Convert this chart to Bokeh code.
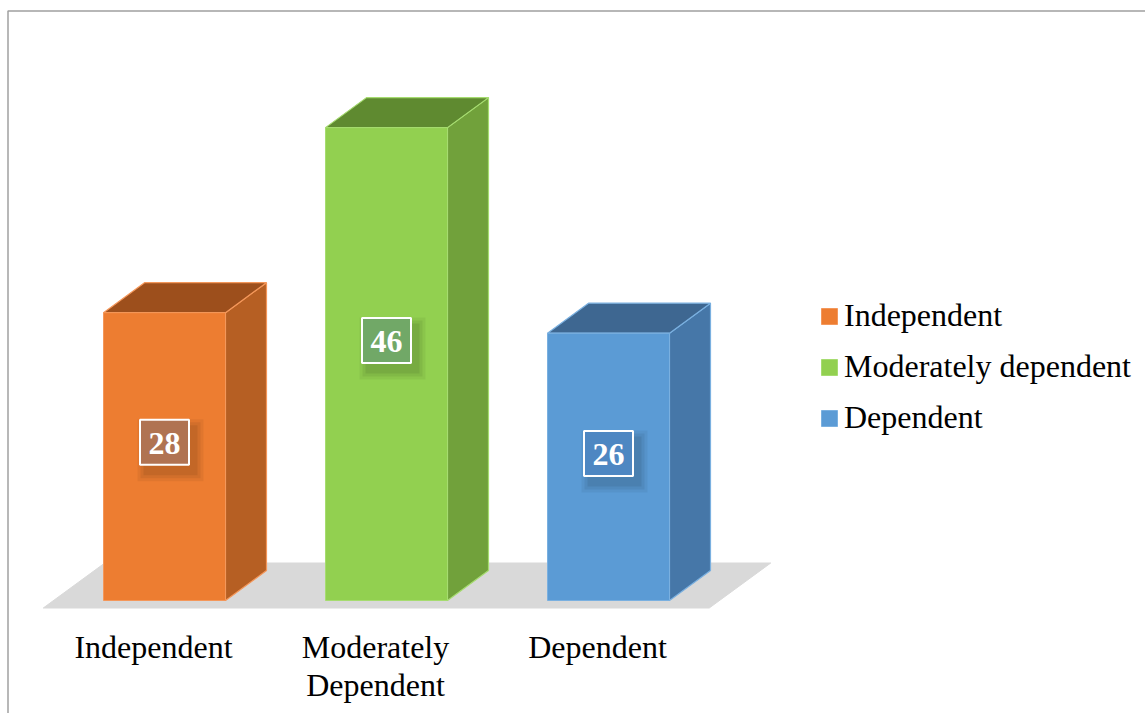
from bokeh.plotting import figure
from bokeh.models import Range1d, Legend, LegendItem, ColumnDataSource
from bokeh.core.properties import value
from bokeh.embed import file_html
from bokeh.resources import INLINE

# ---- data -------------------------------------------------------------
categories = ["Independent", "Moderately dependent", "Dependent"]
axis_labels = ["Independent", "Moderately\nDependent", "Dependent"]
percent = [28, 46, 26]

# ---- colours ----------------------------------------------------------
front_colors = ["#ED7D31", "#92D050", "#5B9BD5"]
side_colors = ["#B65F23", "#71A13B", "#4677A8"]
top_colors = ["#9D4F1C", "#5F8A30", "#3E6791"]
edge_colors = ["#F4975A", "#A6DC70", "#7AB0E0"]
label_fills = ["#B07352", "#71A867", "#4E87C2"]

FONT = "Liberation Serif"

# ---- canvas and scale -------------------------------------------------
W, H = 1145, 713
CAT_PX = 222.0      # pixels between neighbouring categories
VAL_PX = 10.28      # pixels per percentage point
X0_PX, Y0_PX = 164.0, 600.0   # screen position of category 0 at value 0

x_start, x_end = -X0_PX / CAT_PX, (W - X0_PX) / CAT_PX
y_start, y_end = -(H - Y0_PX) / VAL_PX, Y0_PX / VAL_PX

half_w = 61 / CAT_PX        # half the width of a bar's front face
dx = 41 / CAT_PX            # oblique depth, horizontal part
dy = 30 / VAL_PX            # oblique depth, vertical part

p = figure(width=W, height=H, output_backend="svg", toolbar_location=None,
           x_range=Range1d(x_start, x_end), y_range=Range1d(y_start, y_end),
           x_axis_location=None, y_axis_location=None, min_border=0)
p.grid.grid_line_color = None
p.outline_line_color = None
p.background_fill_color = "white"
p.border_fill_color = "white"

n = len(categories)
idx = list(range(n))

# chart border (top and left edges)
bx = x_start + 7.5 / CAT_PX
by = y_end - 10.5 / VAL_PX
p.line([bx, bx, x_end + 1], [y_start - 1, by, by], line_color="#A0A0A0", line_width=1.5)

# floor under the bars
f0, f1 = -0.25, 1.25
p.patch([-0.5 + f0 * dx, n - 0.5 + f0 * dx, n - 0.5 + f1 * dx, -0.5 + f1 * dx],
        [f0 * dy, f0 * dy, f1 * dy, f1 * dy],
        fill_color="#D9D9D9", line_color="#D9D9D9", line_width=1)

# side and top faces of each bar
side_xs, side_ys, top_xs, top_ys = [], [], [], []
for i, v in zip(idx, percent):
    xl, xr = i - half_w, i + half_w
    side_xs.append([xr, xr + dx, xr + dx, xr])
    side_ys.append([0, dy, v + dy, v])
    top_xs.append([xl, xr, xr + dx, xl + dx])
    top_ys.append([v, v, v + dy, v + dy])

p.patches(xs="xs", ys="ys", source=ColumnDataSource(dict(
    xs=side_xs, ys=side_ys, fill=side_colors, edge=edge_colors)),
    fill_color="fill", line_color="edge", line_width=1.2)
p.patches(xs="xs", ys="ys", source=ColumnDataSource(dict(
    xs=top_xs, ys=top_ys, fill=top_colors, edge=edge_colors)),
    fill_color="fill", line_color="edge", line_width=1.2)

# front faces
front_src = ColumnDataSource(dict(
    left=[i - half_w for i in idx], right=[i + half_w for i in idx],
    top=percent, bottom=[0] * n, fill=front_colors, edge=edge_colors))
front = p.quad(left="left", right="right", top="top", bottom="bottom",
               source=front_src, fill_color="fill", line_color="edge", line_width=1)

# value labels with a soft shadow
label_y = [v * 0.55 for v in percent]
for sw, sh, a in [(66, 62, 0.05), (60, 56, 0.06), (54, 50, 0.07)]:
    p.rect(x=[i + 6 / CAT_PX for i in idx], y=[y - 8 / VAL_PX for y in label_y],
           width=sw, height=sh, width_units="screen", height_units="screen",
           fill_color="black", fill_alpha=a, line_color=None)
p.rect(x=idx, y=label_y, width=49, height=45, width_units="screen", height_units="screen",
       fill_color=label_fills, line_color="white", line_width=2)
p.text(x=idx, y=label_y, text=[str(v) for v in percent], text_align="center",
       text_baseline="middle", text_font=value(FONT), text_font_style="bold",
       text_font_size="32px", text_color="white", y_offset=1)

# category labels under the floor
p.text(x=[i - 11 / CAT_PX for i in idx], y=[-28 / VAL_PX] * n, text=axis_labels,
       text_align="center", text_baseline="top", text_font=value(FONT),
       text_font_size="32px", text_color="black", text_line_height=1.08)

legend = Legend(items=[LegendItem(label=c, renderers=[front], index=i)
                       for i, c in enumerate(categories)],
                location=(819, 277), glyph_width=20, glyph_height=20,
                label_text_font=FONT, label_text_font_size="32px",
                label_text_color="black",
                label_standoff=5, spacing=14, padding=0, margin=0,
                border_line_color=None, background_fill_alpha=0)
p.add_layout(legend)

open("out.html", "w").write(file_html(p, INLINE))
